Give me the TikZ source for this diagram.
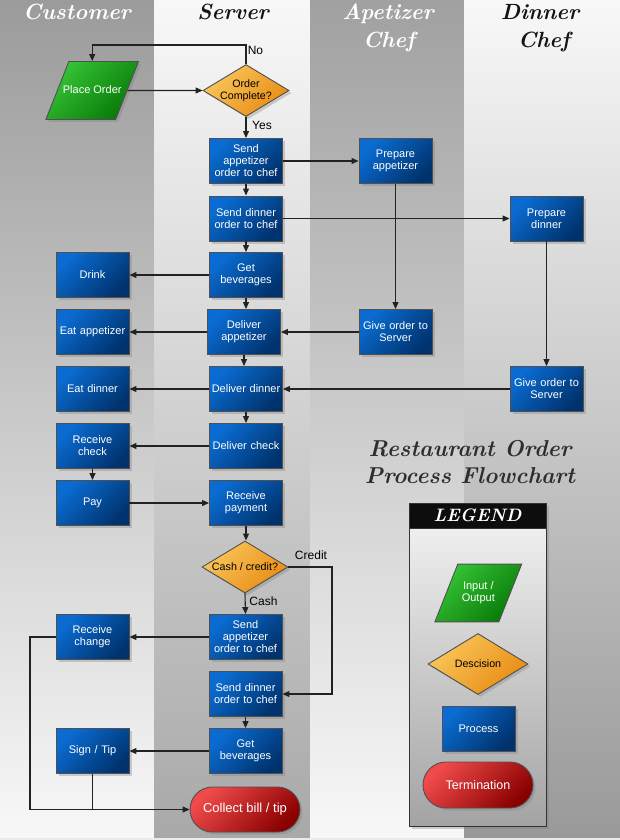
\documentclass[tikz,border=0pt]{standalone}
\usepackage{fontspec}
\newfontfamily\sansf{Liberation Sans}
\usetikzlibrary{shapes.geometric,shapes.misc,shadows,arrows.meta,calc}
\definecolor{laneDark}{HTML}{9B9B9B}
\definecolor{laneLight}{HTML}{F8F8F8}
\definecolor{bluetl}{HTML}{0A6CD2}
\definecolor{bluebr}{HTML}{00336E}
\definecolor{greentl}{HTML}{35C435}
\definecolor{greenbr}{HTML}{087808}
\definecolor{orangetl}{HTML}{F9C65A}
\definecolor{orangebr}{HTML}{E88C14}
\definecolor{redtl}{HTML}{F04A4A}
\definecolor{redbr}{HTML}{8A0000}
\definecolor{borderc}{HTML}{505050}
\definecolor{linec}{HTML}{222222}
\tikzset{
  nodefont/.style={font=\sansf\fontsize{11}{12}\selectfont},
  shadowed/.style={drop shadow={shadow xshift=2.5pt, shadow yshift=-2.5pt, opacity=0.35}},
  proc/.style={rectangle, draw=borderc, line width=0.9pt, top color=bluetl, bottom color=bluebr, shading angle=45,
    minimum width=73pt, minimum height=45pt, text width=71pt, inner sep=1pt, align=center, text=white, nodefont, shadowed},
  io/.style={trapezium, trapezium left angle=68.4, trapezium right angle=111.6,
    draw=borderc, line width=0.9pt, top color=greentl, bottom color=greenbr, shading angle=45,
    align=center, text=white, nodefont},
  dec/.style={diamond, aspect=1.6, draw=borderc, line width=0.9pt, top color=orangetl, bottom color=orangebr, shading angle=45,
    minimum width=86pt, minimum height=52pt, inner sep=-2pt, align=center, text=black,
    font=\sansf\fontsize{10.7}{12}\selectfont, shadowed},
  term/.style={rounded rectangle, draw=borderc, line width=0.9pt, top color=redtl, bottom color=redbr, shading angle=45,
    minimum width=112pt, minimum height=45pt, inner sep=1pt, align=center, text=white,
    font=\sansf\fontsize{13}{14}\selectfont, shadowed},
  arr/.style={draw=linec, line width=1.1pt, -{Triangle[length=7pt,width=6pt]}},
  ln/.style={draw=linec, line width=1.1pt},
  lbl/.style={font=\sansf\fontsize{12}{13}\selectfont, text=black, inner sep=0pt},
  lanetitle/.style={font=\fontsize{22}{24}\selectfont\bfseries\itshape, anchor=base, inner sep=0pt},
}
\begin{document}
\begin{tikzpicture}[x=1pt,y=-1pt]
\useasboundingbox (0,0) rectangle (620,840);
% lanes
\shade[top color=laneDark, bottom color=laneLight] (0,0) rectangle (154,840);
\shade[top color=laneLight, bottom color=black!34] (154,0) rectangle (310,840);
\shade[top color=black!37, bottom color=laneLight] (310,0) rectangle (464,840);
\shade[top color=laneLight, bottom color=black!40] (464,0) rectangle (620,840);
\fill[black!8] (0,837.5) rectangle (620,840);
% lane titles
\node[lanetitle, text=white] (tCust) at (77,20) {Customer};
\node[lanetitle, text=black!92] (tServ) at (233,20) {Server};
\node[lanetitle, text=white] (tApp1) at (388,20) {Apetizer};
\node[lanetitle, text=white] (tApp2) at (389,48) {Chef};
\node[lanetitle, text=black!92] (tDin1) at (540,20) {Dinner};
\node[lanetitle, text=black!92] (tDin2) at (544,48) {Chef};
% main title
\node[font=\fontsize{23}{27}\selectfont\bfseries\itshape, text=black!82, align=center, inner sep=0pt] (title) at (470,462) {Restaurant Order\\Process Flowchart};
% nodes
\node[io, inner xsep=-6pt, inner ysep=23.75pt, text height=8pt, text depth=2.5pt, shadowed] (po) at (92.2,90.5) {Place Order};
\node[dec] (oc) at (246,90.5) {Order\\Complete?};
\node[proc] (sa1) at (246,161) {Send\\appetizer\\order to chef};
\node[proc] (sd1) at (246,218.5) {Send dinner\\order to chef};
\node[proc] (gb1) at (246,275) {Get\\beverages};
\node[proc] (da) at (244,332) {Deliver\\appetizer};
\node[proc] (ddin) at (246,389) {Deliver dinner};
\node[proc] (dc) at (246,446) {Deliver check};
\node[proc] (rp) at (246,503) {Receive\\payment};
\node[dec] (cc) at (245,567) {Cash / credit?};
\node[proc] (sa2) at (245.5,637) {Send\\appetizer\\order to chef};
\node[proc] (sd2) at (245.5,694) {Send dinner\\order to chef};
\node[proc] (gb2) at (245.5,751) {Get\\beverages};
\node[term] (cb) at (245,809.5) {Collect bill / tip};
\node[proc] (pa) at (395.5,161) {Prepare\\appetizer};
\node[proc] (pd) at (546.5,218.5) {Prepare\\dinner};
\node[proc] (ga) at (395.5,332) {Give order to\\Server};
\node[proc] (gd) at (546.5,389) {Give order to\\Server};
\node[proc] (drink) at (92.5,275) {Drink};
\node[proc] (ea) at (92.5,332) {Eat appetizer};
\node[proc] (ed) at (92.5,389) {Eat dinner};
\node[proc] (rc) at (92.5,446) {Receive\\check};
\node[proc] (pay) at (92.5,503) {Pay};
\node[proc] (rch) at (92.5,637) {Receive\\change};
\node[proc] (sign) at (92.5,751) {Sign / Tip};
% connectors
\coordinate (noc) at (246,45);
\draw[arr] (oc.north) -- (noc) -| (po.north);
\node[lbl] (lno) at (255.5,50) {No};
\draw[arr] (po.east) -- (oc.west);
\draw[arr] (oc.south) -- (sa1.north);
\node[lbl] (lyes) at (262,125) {Yes};
\draw[arr] (sa1.south) -- (sd1.north);
\draw[arr] (sd1.south) -- (gb1.north);
\draw[arr] (gb1.south) -- (gb1.south |- da.north);
\draw[arr] (da.south) -- (da.south |- ddin.north);
\draw[arr] (ddin.south) -- (dc.north);
\draw[arr] (sa1.east) -- (pa.west);
\draw[arr] (sd1.east) -- (pd.west);
\draw[arr] (pa.south) -- (ga.north);
\draw[arr] (pd.south) -- (gd.north);
\draw[arr] (ga.west) -- (da.east);
\draw[arr] (gd.west) -- (ddin.east);
\draw[arr] (gb1.west) -- (drink.east);
\draw[arr] (da.west) -- (ea.east);
\draw[arr] (ddin.west) -- (ed.east);
\draw[arr] (dc.west) -- (rc.east);
\draw[arr] (rc.south) -- (pay.north);
\draw[arr] (pay.east) -- (rp.west);
\draw[arr] (rp.south) -- (rp.south |- cc.north);
\draw[arr] (cc.south) -- (sa2.north);
\node[lbl] (lcash) at (263.5,601) {Cash};
\coordinate (crx) at (332,567);
\draw[arr] (cc.east) -- (crx) |- (sd2.east);
\node[lbl] (lcredit) at (311,555.5) {Credit};
\draw[arr] (sa2.west) -- (rch.east);
\draw[arr] (sd2.south) -- (gb2.north);
\draw[arr] (gb2.west) -- (sign.east);
\coordinate (rx) at (30,637);
\draw[arr] (rch.west) -- (rx) |- (cb.west);
\draw[ln] (sign.south) -- (sign.south |- cb.west);
% legend
\node[draw=black!80, line width=0.9pt, top color=black!4, bottom color=black!36, minimum width=137pt, minimum height=323pt, inner sep=0pt, shadowed] (legend) at (477.5,664.5) {};
\node[fill=black!95, draw=black!80, line width=0.9pt, minimum width=137pt, minimum height=25pt, inner sep=0pt, text=white, font=\fontsize{18}{18}\selectfont\bfseries\itshape] (lhead) at (477.5,515.5) {LEGEND};
\node[io, inner xsep=4pt, inner ysep=17.8pt] (lio) at (478.3,593) {Input /\\Output};
\node[dec, aspect=1.64, minimum width=100pt, minimum height=61pt, drop shadow={opacity=0}] (ldec) at (478,664) {Descision};
\node[proc, drop shadow={opacity=0}] (lproc) at (478.5,728.5) {Process};
\node[term, font=\sansf\fontsize{12.5}{13}\selectfont, minimum height=46pt, drop shadow={opacity=0}] (lterm) at (478,785) {Termination};
\end{tikzpicture}
\end{document}
